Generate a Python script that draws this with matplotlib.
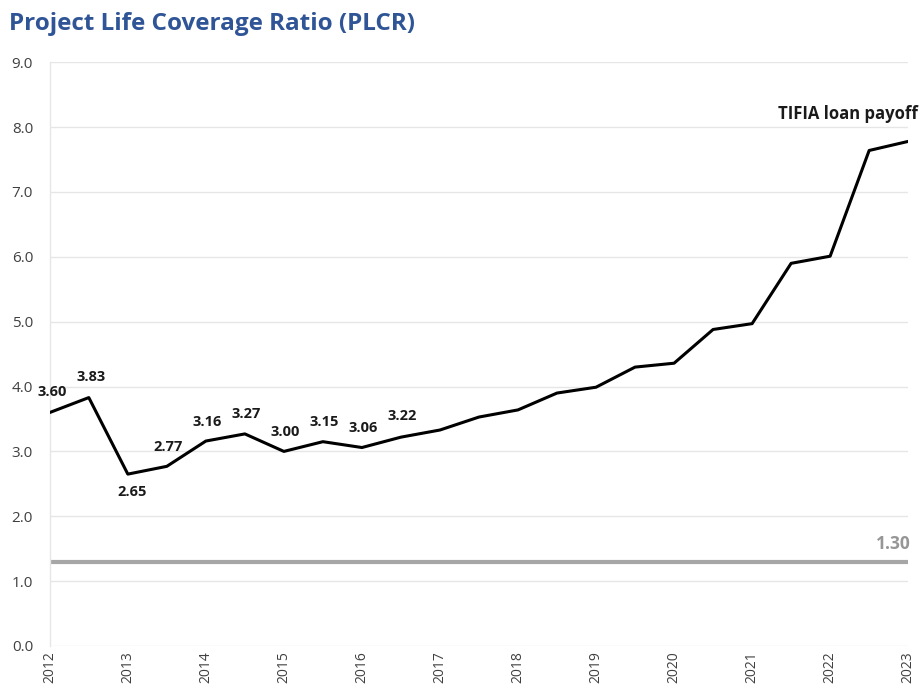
import matplotlib
matplotlib.use('Agg')
import matplotlib.pyplot as plt

# semi-annual PLCR values, 2012 .. 2023
periods = [2012 + 0.5 * i for i in range(23)]
plcr = [3.60, 3.83, 2.65, 2.77, 3.16, 3.27, 3.00, 3.15, 3.06, 3.22,
        3.33, 3.53, 3.64, 3.90, 3.99, 4.30, 4.36, 4.88, 4.97, 5.90,
        6.01, 7.64, 7.78]
min_ratio = 1.30
years = list(range(2012, 2024))
yticks = [0, 1, 2, 3, 4, 5, 6, 7, 8, 9]

# labelled points (first ten) with offsets in points
label_offsets = [(2, 15), (2, 15), (3, -13), (1, 14), (1, 13.5), (1, 14),
                 (1, 14), (1, 14), (1, 14), (1, 15)]

plt.rcParams['font.family'] = ['Open Sans', 'DejaVu Sans']

fig = plt.figure(figsize=(9.22, 6.92), dpi=100)
ax = fig.add_axes([0.054, 0.0665, 0.931, 0.8435])

ax.plot(periods, plcr, color="black", linewidth=2.2, zorder=3)
ax.plot([years[0], years[-1]], [min_ratio, min_ratio], color="#a6a6a6",
        linewidth=3, solid_capstyle="round", zorder=2)

for i, (dx, dy) in enumerate(label_offsets):
    ax.annotate(f"{plcr[i]:.2f}", (periods[i], plcr[i]), xytext=(dx, dy),
                textcoords="offset points", ha="center", va="center",
                fontsize=10.5, fontweight="bold", color="#1a1a1a")

ax.text(2023.03, min_ratio + 0.28, f"{min_ratio:.2f}", ha="right", va="center",
        fontsize=12.5, fontweight="bold", color="#969696")
ax.text(2023.12, 8.2, "TIFIA loan payoff", ha="right", va="center",
        fontsize=12, fontweight="bold", color="#1a1a1a")

ax.set_xlim(2012, 2023)
ax.set_ylim(0, 9)
ax.set_xticks(years)
ax.set_xticklabels([str(y) for y in years], rotation=90, fontsize=10, color="#404040")
ax.set_yticks(yticks)
ax.set_yticklabels([f"{v:.1f}" for v in yticks], fontsize=11, color="#404040")
ax.tick_params(axis="y", length=0, pad=12)
ax.tick_params(axis="x", length=0, pad=4)
ax.yaxis.grid(True, color="#e6e6e6", linewidth=1)
ax.set_axisbelow(True)
for name, s in ax.spines.items():
    if name == "left":
        s.set_color("#e6e6e6")
        s.set_linewidth(1)
    else:
        s.set_visible(False)

fig.text(0.010, 0.966, "Project Life Coverage Ratio (PLCR)", fontsize=17.5,
         fontweight="bold", color="#2f5597", va="center", ha="left")

fig.savefig("out.png", dpi=100)
plt.close()
